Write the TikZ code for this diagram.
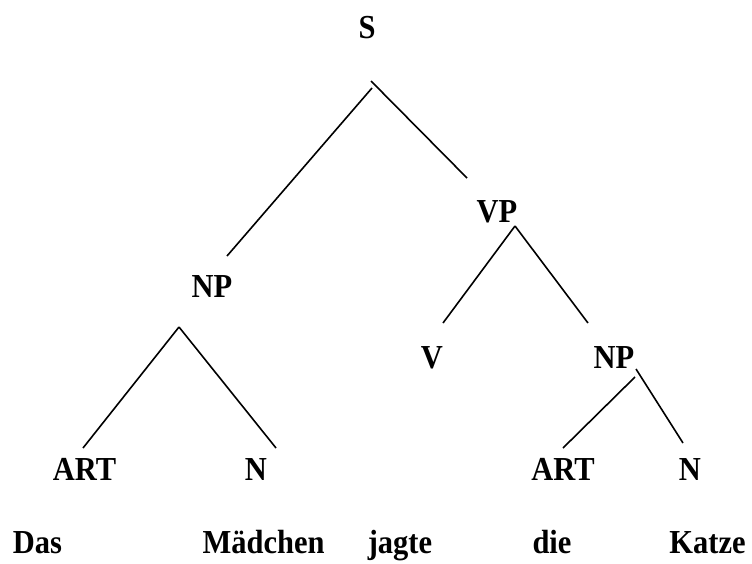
\documentclass[tikz,border=0pt]{standalone}
\usepackage{fontspec}
\setmainfont{Liberation Serif}
\newcommand{\tallbox}[1]{\scalebox{1}[1.1]{#1}}
\begin{document}
\begin{tikzpicture}[x=1pt,y=-1pt,
  lbl/.style={anchor=base,inner sep=0pt,font=\fontsize{30.5}{36}\selectfont\bfseries},
  edge/.style={line width=1.6pt,black}]
\useasboundingbox (0,0) rectangle (752,563);
% categories
\node[lbl] (S) at (367,38) {\tallbox{S}};
\node[lbl] (NP1) at (212,297) {\tallbox{NP}};
\node[lbl] (VP) at (497,222) {\tallbox{VP}};
\node[lbl] (V) at (432,368) {\tallbox{V}};
\node[lbl] (NP2) at (614,368) {\tallbox{NP}};
\node[lbl] (ART1) at (84.5,480) {\tallbox{ART}};
\node[lbl] (N1) at (256,480) {\tallbox{N}};
\node[lbl] (ART2) at (563,480) {\tallbox{ART}};
\node[lbl] (N2) at (690,480) {\tallbox{N}};
% words
\node[lbl] (w1) at (37.5,553) {\tallbox{Das}};
\node[lbl] (w2) at (263.5,553) {\tallbox{Mädchen}};
\node[lbl] (w3) at (400,553) {\tallbox{jagte}};
\node[lbl] (w4) at (552,553) {\tallbox{die}};
\node[lbl] (w5) at (707.5,553) {\tallbox{Katze}};
% connector end points
\coordinate (S-l) at (372,88);
\coordinate (S-r) at (371,81);
\coordinate (NP1-t) at (227,256);
\coordinate (VP-t) at (467,178);
\coordinate (VP-b) at (515,226);
\coordinate (V-t) at (443,323);
\coordinate (NP2-t) at (588,323);
\coordinate (NP1-b) at (179,327);
\coordinate (ART1-t) at (83,448);
\coordinate (N1-t) at (276,448);
\coordinate (NP2-bl) at (635,377);
\coordinate (NP2-br) at (636,369);
\coordinate (ART2-t) at (563,448);
\coordinate (N2-t) at (683,443);
% connectors
\draw[edge] (S-l) -- (NP1-t);
\draw[edge] (S-r) -- (VP-t);
\draw[edge] (VP-b) -- (V-t);
\draw[edge] (VP-b) -- (NP2-t);
\draw[edge] (NP1-b) -- (ART1-t);
\draw[edge] (NP1-b) -- (N1-t);
\draw[edge] (NP2-bl) -- (ART2-t);
\draw[edge] (NP2-br) -- (N2-t);
\end{tikzpicture}
\end{document}
